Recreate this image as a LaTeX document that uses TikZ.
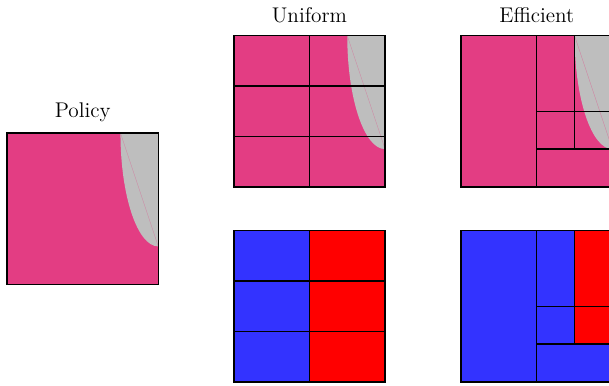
\documentclass[tikz,border=0pt]{standalone}
\usepackage{tikz}

\definecolor{policypink}{RGB}{227,61,131}
\definecolor{regiongray}{RGB}{190,190,190}
\definecolor{cellblue}{RGB}{51,51,255}
\definecolor{cellred}{RGB}{255,0,0}

% pink box of side 3 with the grey region in its top right corner
\newcommand{\policyfill}[2]{%
	\fill[policypink] (#1,#2) rectangle ++(3,3);
	\fill[regiongray] (#1+2.25,#2+3) arc[start angle=180,end angle=270,x radius=0.75,y radius=2.25] -- (#1+3,#2+3) -- cycle;
	\draw[policypink!45!regiongray, very thin] (#1+2.25,#2+3) -- (#1+3,#2+0.75);
}

\begin{document}
\begin{tikzpicture}[scale=1,
		cell/.style={draw=black, line width=0.8pt},
		title/.style={font=\large, inner sep=1pt}]
	\useasboundingbox (0,0) rectangle (12.083,7.639);
	
	% policy
	\policyfill{0.14}{2}
	\draw[cell] (0.14,2) rectangle (3.14,5);
	\node[title] (policy) at (1.64,5.41) {Policy};
	
	% uniform
	\policyfill{4.64}{3.93}
	\foreach \i in {0,1} {
		\foreach \j in {0,1,2} {
			\draw[cell] (4.64+1.5*\i,3.93+\j) rectangle ++(1.5,1);
		}
	}
	\foreach \j in {0,1,2} {
		\draw[cell, fill=cellblue] (4.64,0.06+\j) rectangle ++(1.5,1);
		\draw[cell, fill=cellred] (6.14,0.06+\j) rectangle ++(1.5,1);
	}
	\node[title] (uniform) at (6.14,7.34) {Uniform};
	
	% efficient
	\policyfill{9.15}{3.93}
	\draw[cell] (9.15,3.93) rectangle ++(1.5,3);
	\draw[cell] (10.65,3.93) rectangle ++(1.5,0.75);
	\draw[cell] (10.65,4.68) rectangle ++(0.75,0.75);
	\draw[cell] (10.65,5.43) rectangle ++(0.75,1.5);
	\draw[cell] (11.4,4.68) rectangle ++(0.75,0.75);
	\draw[cell] (11.4,5.43) rectangle ++(0.75,1.5);
	
	\draw[cell, fill=cellblue] (9.15,0.06) rectangle ++(1.5,3);
	\draw[cell, fill=cellblue] (10.65,0.06) rectangle ++(1.5,0.75);
	\draw[cell, fill=cellblue] (10.65,0.81) rectangle ++(0.75,0.75);
	\draw[cell, fill=cellblue] (10.65,1.56) rectangle ++(0.75,1.5);
	\draw[cell, fill=cellred] (11.4,0.81) rectangle ++(0.75,0.75);
	\draw[cell, fill=cellred] (11.4,1.56) rectangle ++(0.75,1.5);
	\node[title] (efficient) at (10.65,7.34) {Efficient};
\end{tikzpicture}
\end{document}
